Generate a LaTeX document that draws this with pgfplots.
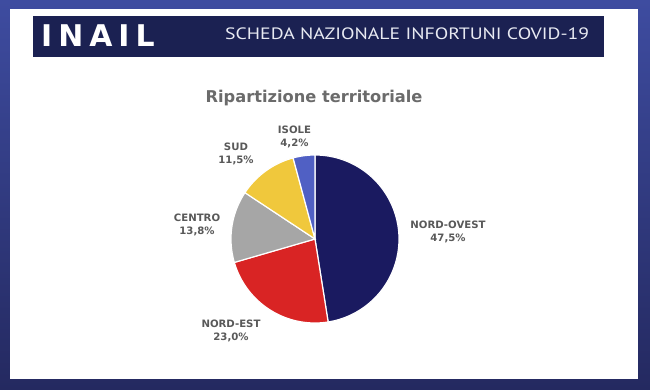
\documentclass[border=0pt]{standalone}
\usepackage{graphicx}
\usepackage{fontspec}
\setmainfont{DejaVu Sans}
\newfontfamily\hdr{PT Sans}
\usepackage{pgfplots}
\pgfplotsset{compat=1.18}
\definecolor{frameA}{RGB}{62,76,160}
\definecolor{frameB}{RGB}{36,41,96}
\definecolor{hbar}{RGB}{27,33,82}
\definecolor{cNO}{RGB}{26,26,96}
\definecolor{cNE}{RGB}{217,36,36}
\definecolor{cCE}{RGB}{166,166,166}
\definecolor{cSU}{RGB}{240,200,60}
\definecolor{cIS}{RGB}{80,96,196}
\definecolor{lbl}{RGB}{89,89,89}
\definecolor{ttl}{RGB}{107,107,107}
% shares (percent)
\def\vNO{47.5}
\def\vNE{23.0}
\def\vCE{13.8}
\def\vSU{11.5}
\def\vIS{4.2}
\pgfmathsetmacro\aA{90}
\pgfmathsetmacro\aB{\aA-3.6*\vNO}
\pgfmathsetmacro\aC{\aB-3.6*\vNE}
\pgfmathsetmacro\aD{\aC-3.6*\vCE}
\pgfmathsetmacro\aE{\aD-3.6*\vSU}
\pgfmathsetmacro\aF{\aE-3.6*\vIS}
\begin{document}
\begin{tikzpicture}
\shade[top color=frameA, bottom color=frameB] (0,0) rectangle (650bp,390bp);
\fill[white] (10bp,11bp) rectangle (638bp,381bp);
\fill[hbar] (33bp,333.3bp) rectangle (604bp,373.5bp);
\node[anchor=base west, inner sep=0, white, font=\fontsize{30}{30}\selectfont\bfseries] at (41bp,343.3bp) {I\hspace{6bp}N\hspace{6bp}A\hspace{6bp}I\hspace{6bp}L};
\node[anchor=base west, inner sep=0, text={rgb,255:red,232;green,234;blue,242}] at (225bp,350bp) {\resizebox{364bp}{11.7bp}{\hdr SCHEDA NAZIONALE INFORTUNI COVID-19}};
\begin{axis}[at={(0,0)}, anchor=south west, x=1bp, y=1bp,
  xmin=-315, xmax=335, ymin=-151, ymax=239, hide axis, clip=false]
\addplot[fill=cNO, draw=white, line width=1.2pt, domain=\aB:\aA, samples=90, variable=\t] ({84*cos(t)},{84*sin(t)}) -- (axis cs:0,0) -- cycle;
\addplot[fill=cNE, draw=white, line width=1.2pt, domain=\aC:\aB, samples=60, variable=\t] ({84*cos(t)},{84*sin(t)}) -- (axis cs:0,0) -- cycle;
\addplot[fill=cCE, draw=white, line width=1.2pt, domain=\aD:\aC, samples=40, variable=\t] ({84*cos(t)},{84*sin(t)}) -- (axis cs:0,0) -- cycle;
\addplot[fill=cSU, draw=white, line width=1.2pt, domain=\aE:\aD, samples=40, variable=\t] ({84*cos(t)},{84*sin(t)}) -- (axis cs:0,0) -- cycle;
\addplot[fill=cIS, draw=white, line width=1.2pt, domain=\aF:\aE, samples=20, variable=\t] ({84*cos(t)},{84*sin(t)}) -- (axis cs:0,0) -- cycle;
\node[anchor=base, text=ttl, font=\fontsize{16.3}{18}\selectfont\bfseries] at (axis cs:-1,136.3) {Ripartizione territoriale};
\tikzset{lab/.style={align=center, text=lbl, inner sep=0, font=\fontsize{10.2}{13}\selectfont\bfseries}}
\node[lab] at (axis cs:-20.5,102.5) {ISOLE\\4,2\%};
\node[lab] at (axis cs:-79,85.5) {SUD\\11,5\%};
\node[lab] at (axis cs:-118,14) {CENTRO\\13,8\%};
\node[lab] at (axis cs:133,7.5) {NORD-OVEST\\47,5\%};
\node[lab] at (axis cs:-84,-91.5) {NORD-EST\\23,0\%};
\end{axis}
\pgfresetboundingbox
\path (0,0) rectangle (650bp,390bp);
\end{tikzpicture}
\end{document}
